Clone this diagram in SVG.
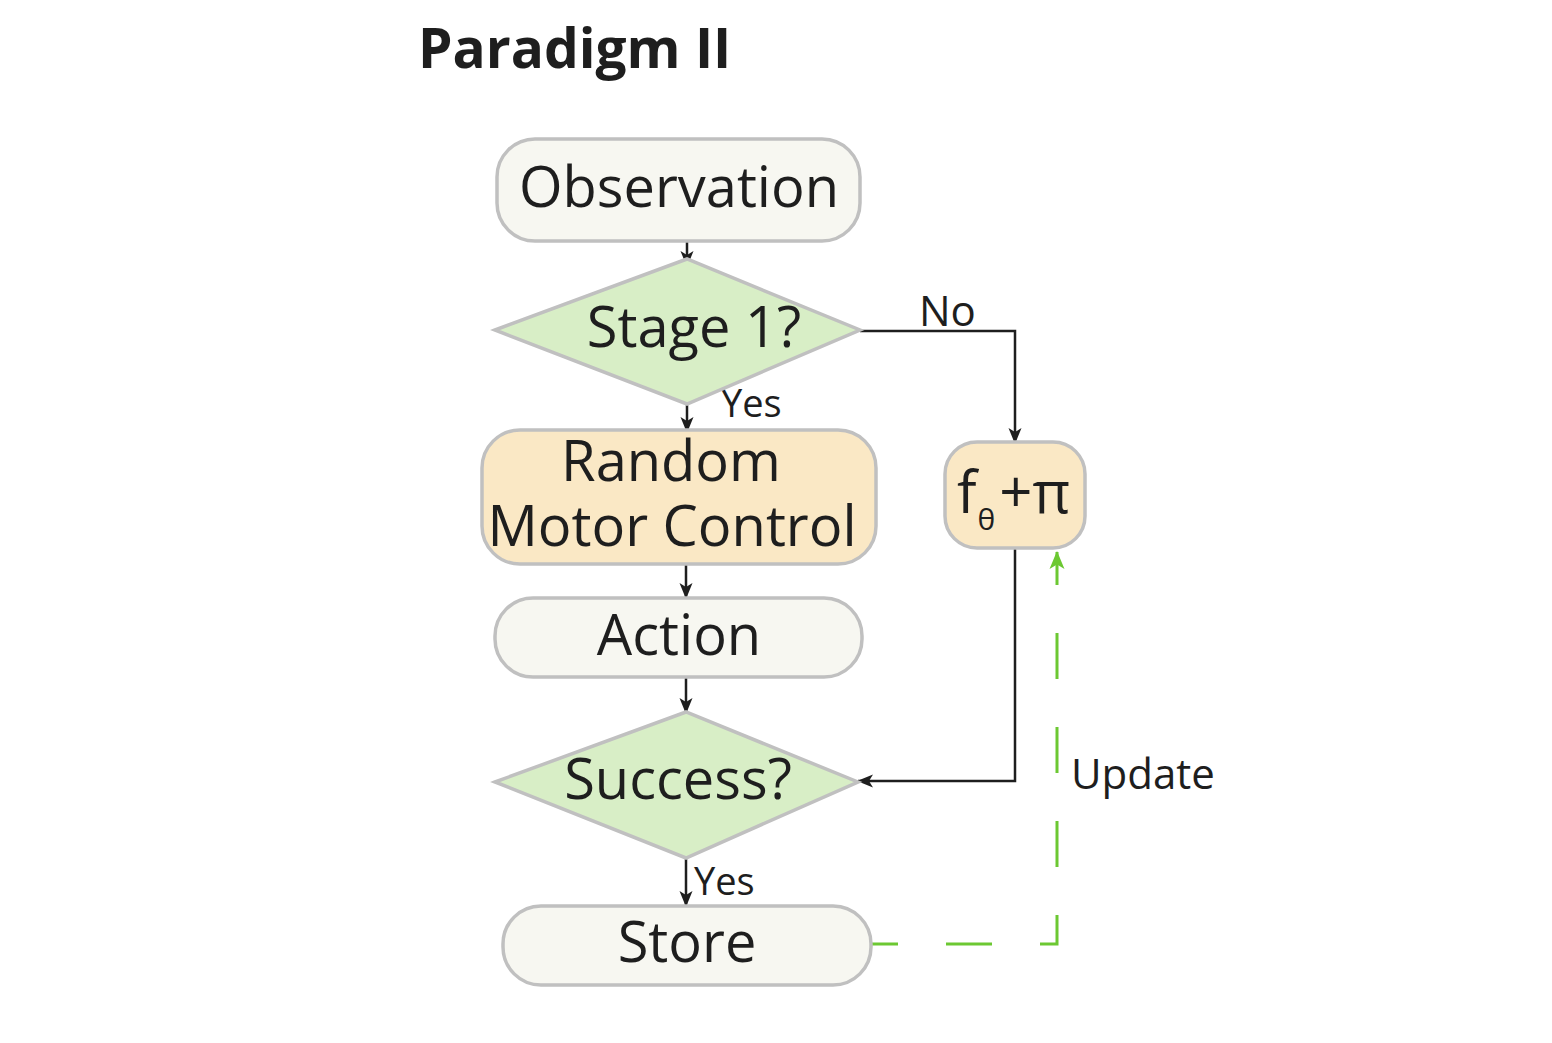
<svg xmlns="http://www.w3.org/2000/svg" width="1552" height="1043" viewBox="0 0 1552 1043">
<style>
.t{font-family:"Open Sans","Noto Sans","DejaVu Sans",sans-serif;fill:#1e1e1e}
.n{stroke:#c0c0c0;stroke-width:3.5}
.w{fill:#f7f7f1}
.o{fill:#fae8c5}
.g{fill:#d8eec6}
.c{fill:none;stroke:#1e1e1e;stroke-width:2.5}
.u{fill:none;stroke:#6cc832;stroke-width:3;stroke-dasharray:46 48;stroke-dashoffset:19}
</style>
<defs>
<marker id="a" viewBox="0 0 16 16" refX="15" refY="8" markerWidth="16" markerHeight="16" markerUnits="userSpaceOnUse" orient="auto">
<path d="M0,1.5 L16,8 L0,14.5 L4,8 Z" fill="#1e1e1e"/>
</marker>
<marker id="ag" viewBox="0 0 18 18" refX="17" refY="9" markerWidth="18" markerHeight="18" markerUnits="userSpaceOnUse" orient="auto">
<path d="M0,1.5 L18,9 L0,16.5 L4.5,9 Z" fill="#6cc832"/>
</marker>
</defs>
<rect width="1552" height="1043" fill="#ffffff"/>
<text class="t" x="418" y="68" font-size="55" font-weight="bold">Paradigm II</text>
<g id="connectors">
<line class="c" x1="687" y1="241" x2="687" y2="266" marker-end="url(#a)"/>
<line class="c" x1="687" y1="404" x2="687" y2="432" marker-end="url(#a)"/>
<line class="c" x1="686" y1="564" x2="686" y2="598" marker-end="url(#a)"/>
<line class="c" x1="686" y1="677" x2="686" y2="713" marker-end="url(#a)"/>
<line class="c" x1="686" y1="858" x2="686" y2="906" marker-end="url(#a)"/>
<polyline class="c" points="860,331 1015,331 1015,443" marker-end="url(#a)"/>
<polyline class="c" points="1015,548 1015,781 858,781" marker-end="url(#a)"/>
<polyline class="u" points="871,944 1057,944 1057,552" marker-end="url(#ag)"/>
<text class="t" x="919" y="326" font-size="42">No</text>
<text class="t" x="721" y="417" font-size="38">Yes</text>
<text class="t" x="694" y="895" font-size="38">Yes</text>
<text class="t" x="1071" y="789" font-size="42">Update</text>
</g>
<g id="observation">
<rect class="n w" x="497" y="139" width="363" height="102" rx="38"/>
<text class="t" x="679" y="207" font-size="56" text-anchor="middle">Observation</text>
</g>
<g id="stage1">
<polygon class="n g" points="495,330 687,259 860,330 687,404"/>
<text class="t" x="694" y="347" font-size="56" text-anchor="middle">Stage 1?</text>
</g>
<g id="random-motor-control">
<rect class="n o" x="482" y="430" width="394" height="134" rx="38"/>
<text class="t" x="671" y="481" font-size="56" text-anchor="middle">Random</text>
<text class="t" x="672" y="546" font-size="56" text-anchor="middle">Motor Control</text>
</g>
<g id="f-theta-pi">
<rect class="n o" x="945" y="442" width="140" height="106" rx="32"/>
<text class="t" x="957" y="513" font-size="58">f<tspan font-size="30" dy="17" dx="1">θ</tspan><tspan dy="-17" dx="4">+π</tspan></text>
</g>
<g id="action">
<rect class="n w" x="495" y="598" width="367" height="79" rx="38"/>
<text class="t" x="679" y="655" font-size="56" text-anchor="middle">Action</text>
</g>
<g id="success">
<polygon class="n g" points="495,782 686,712 858,782 686,858"/>
<text class="t" x="678" y="799" font-size="56" text-anchor="middle">Success?</text>
</g>
<g id="store">
<rect class="n w" x="503" y="906" width="368" height="79" rx="38"/>
<text class="t" x="687" y="962" font-size="56" text-anchor="middle">Store</text>
</g>
</svg>
